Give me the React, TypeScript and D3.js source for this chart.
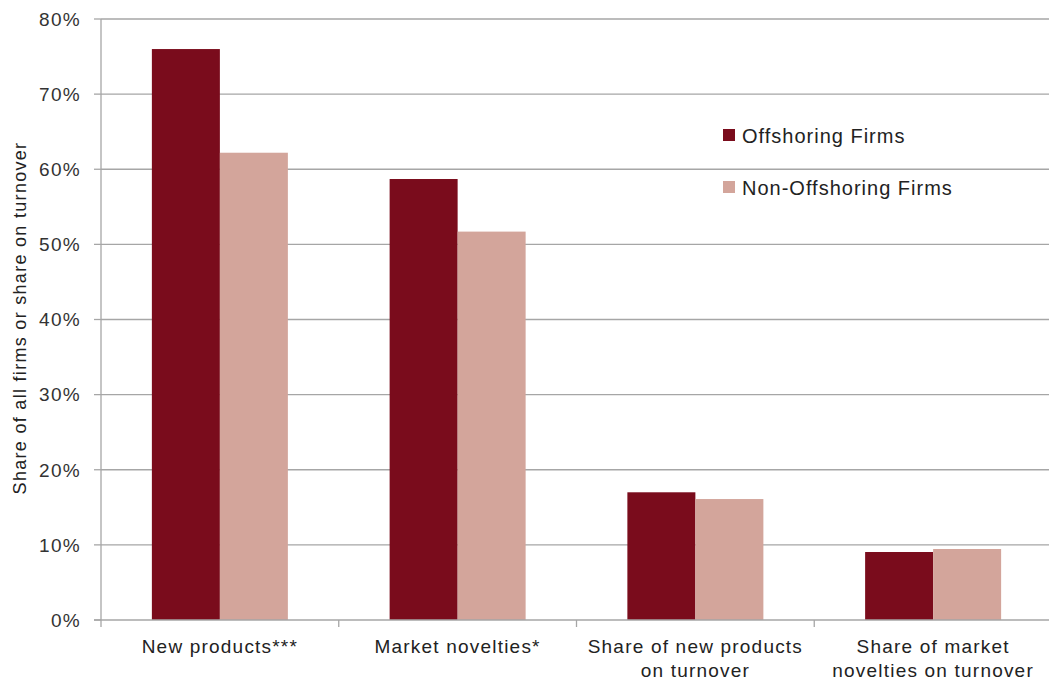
import React from "react";
import * as d3 from "d3";

const categories = [
  ["New products***"],
  ["Market novelties*"],
  ["Share of new products", "on turnover"],
  ["Share of market", "novelties on turnover"],
];
const seriesNames = ["Offshoring Firms", "Non-Offshoring Firms"];
const offshoring = [0.76, 0.587, 0.17, 0.0905];
const nonOffshoring = [0.622, 0.517, 0.161, 0.0945];
const yTicks = [0, 0.1, 0.2, 0.3, 0.4, 0.5, 0.6, 0.7, 0.8];
const colors = ["#7a0c1c", "#d3a59b"];

const W = 1049;
const H = 682;
const left = 101;
const right = 1052;
const top = 19;
const bottom = 620;
const FONT = "'Liberation Sans', Arial, sans-serif";

export default function App() {
  const x = d3
    .scaleBand<number>()
    .domain(categories.map((_, i) => i))
    .range([left, right])
    .paddingInner(0)
    .paddingOuter(0);
  const y = d3.scaleLinear().domain([0, 0.8]).range([bottom, top]);
  const groupW = 136;
  const x1 = d3
    .scaleBand<number>()
    .domain([0, 1])
    .range([(x.bandwidth() - groupW) / 2, (x.bandwidth() + groupW) / 2]);
  const series = [offshoring, nonOffshoring];
  const fmt = d3.format(".0%");
  const boundaries = d3.range(categories.length + 1).map((i) => left + i * x.bandwidth());

  return (
    <svg
      width={W}
      height={H}
      style={{ position: "absolute", left: 0, top: 0, background: "#fff" }}
      fontFamily={FONT}
    >
      {/* gridlines */}
      {yTicks.map((t) => (
        <g key={t}>
          {t > 0 && (
            <line x1={left} x2={W} y1={y(t)} y2={y(t)} stroke="#a6a6a6" strokeWidth={1.3} />
          )}
          <line x1={left - 7} x2={left} y1={y(t)} y2={y(t)} stroke="#a6a6a6" strokeWidth={1.3} />
          <text
            x={81}
            y={y(t)}
            dy="0.36em"
            textAnchor="end"
            fontSize={19}
            letterSpacing={1.3}
            fill="#333"
          >
            {fmt(t)}
          </text>
        </g>
      ))}
      {/* bars */}
      {series.map((vals, si) =>
        vals.map((v, ci) => (
          <rect
            key={`${si}-${ci}`}
            x={(x(ci) as number) + (x1(si) as number)}
            y={y(v)}
            width={x1.bandwidth()}
            height={y(0) - y(v)}
            fill={colors[si]}
          />
        ))
      )}
      {/* axes */}
      <line x1={left} x2={left} y1={top} y2={bottom} stroke="#a6a6a6" strokeWidth={1.3} />
      <line x1={left - 7} x2={W} y1={bottom} y2={bottom} stroke="#a6a6a6" strokeWidth={1.3} />
      {boundaries.map((b, i) => (
        <line key={i} x1={b} x2={b} y1={bottom} y2={bottom + 7} stroke="#a6a6a6" strokeWidth={1.3} />
      ))}
      {/* category labels */}
      {categories.map((lines, ci) => (
        <text
          key={ci}
          x={(x(ci) as number) + x.bandwidth() / 2}
          y={653}
          textAnchor="middle"
          fontSize={19}
          fill="#222"
          letterSpacing={1.2}
        >
          {lines.map((l, li) => (
            <tspan key={li} x={(x(ci) as number) + x.bandwidth() / 2} dy={li === 0 ? 0 : 24}>
              {l}
            </tspan>
          ))}
        </text>
      ))}
      {/* y axis title */}
      <text
        transform={`translate(26,${318}) rotate(-90)`}
        textAnchor="middle"
        fontSize={18}
        fill="#222"
        letterSpacing={1.3}
      >
        Share of all firms or share on turnover
      </text>
      {/* legend */}
      {seriesNames.map((n, i) => (
        <g key={n} transform={`translate(723,${129 + i * 52})`}>
          <rect x={0} y={0} width={12} height={12} fill={colors[i]} />
          <text x={19} y={14} fontSize={20} fill="#222" letterSpacing={1.0}>
            {n}
          </text>
        </g>
      ))}
    </svg>
  );
}
